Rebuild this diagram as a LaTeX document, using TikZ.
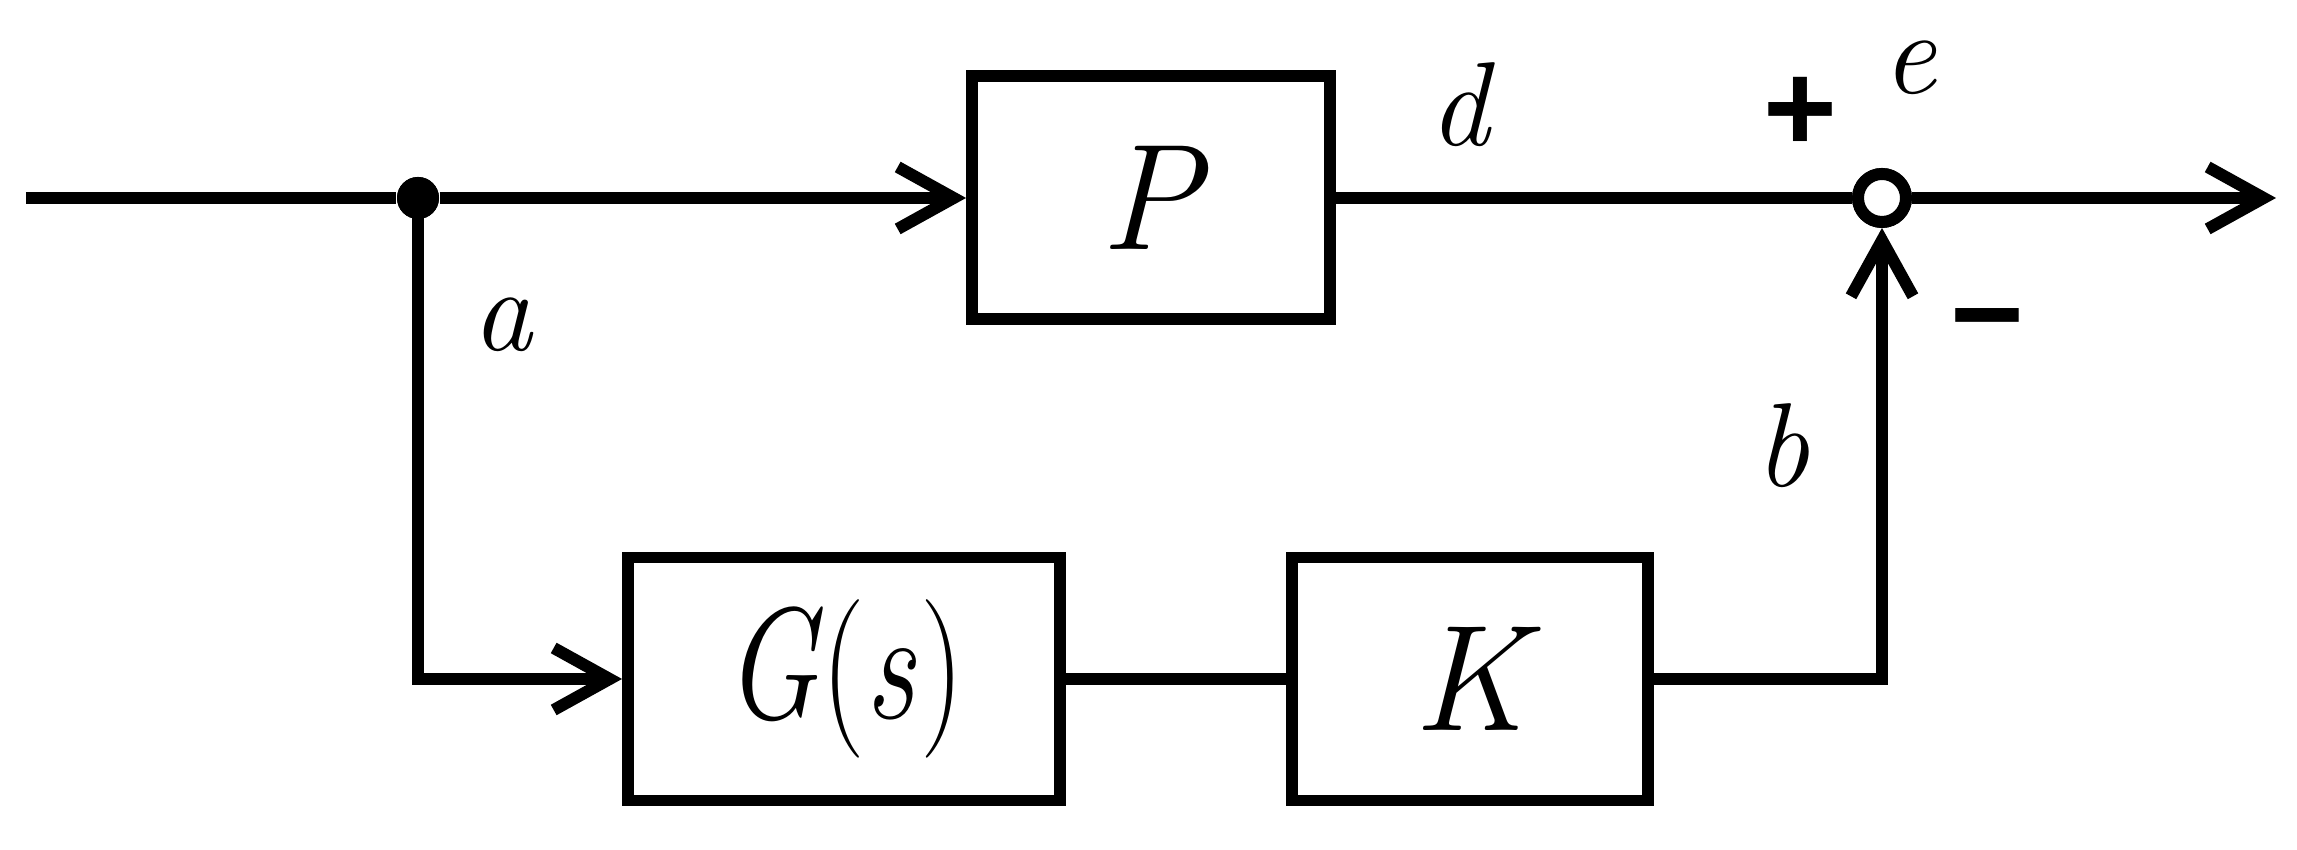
\documentclass[tikz,border=0pt]{standalone}
\usepackage{graphicx}
\usepackage{fontspec}
\newfontfamily\signfont{Liberation Sans}
\usetikzlibrary{arrows.meta}
\tikzset{
  wire/.style={line width=3.4pt, line join=miter},
  arr/.style={wire, -{Straight Barb[length=5.6mm, width=6.2mm, line width=3.4pt]}},
  blockbox/.style={draw, line width=3.4pt, minimum height=2.43cm, inner sep=0pt,
    font=\fontsize{43}{50}\selectfont\itshape},
  lbl/.style={inner sep=0pt, font=\fontsize{34}{40}\selectfont\itshape},
  sign/.style={inner sep=0pt, font=\fontsize{36}{40}\selectfont\signfont\bfseries},
  sumnode/.style={circle, draw, fill=white, line width=3.4pt, minimum size=0.48cm, inner sep=0pt},
  dotnode/.style={circle, fill=black, minimum size=0.42cm, inner sep=0pt}
}
\begin{document}
\begin{tikzpicture}
\useasboundingbox (0,0) rectangle (22.97,8.5);
% nodes
\coordinate (in) at (0.26,6.52);
\node[dotnode] (j) at (4.18,6.52) {};
\node[blockbox, minimum width=3.58cm] (P) at (11.51,6.52) {P};
\node[sumnode] (s) at (18.82,6.52) {};
\coordinate (out) at (22.76,6.52);
\node[blockbox, minimum width=4.32cm] (G) at (8.44,1.71) {\scalebox{0.82}[1.05]{G\kern0.03em\upshape(\itshape s\kern0.04em\upshape)}};
\node[blockbox, minimum width=3.56cm] (K) at (14.70,1.71) {K};
\coordinate (bl) at (4.18,1.71);
\coordinate (br) at (18.82,1.71);
% connectors
\draw[wire] (in) -- (j);
\draw[arr] (j) -- (P.west);
\draw[wire] (P.east) -- (s.west);
\draw[arr] (s.east) -- (out);
\draw[arr] (j.center) -- (bl) -- (G.west);
\draw[wire] (G.east) -- (K.west);
\draw[arr] (K.east) -- (br) -- (s.south);
\node[sumnode] at (s) {};
\node[dotnode] at (j) {};
% labels
\node[lbl] (la) at (5.02,5.25) {a};
\node[lbl] (ld) at (14.59,7.45) {d};
\node[lbl] (le) at (19.09,7.82) {e};
\node[lbl] (lb) at (17.82,4.04) {b};
\node[sign] (plus) at (18.00,7.36) {+};
\node[sign] (minus) at (19.87,5.17) {−};
\end{tikzpicture}
\end{document}
